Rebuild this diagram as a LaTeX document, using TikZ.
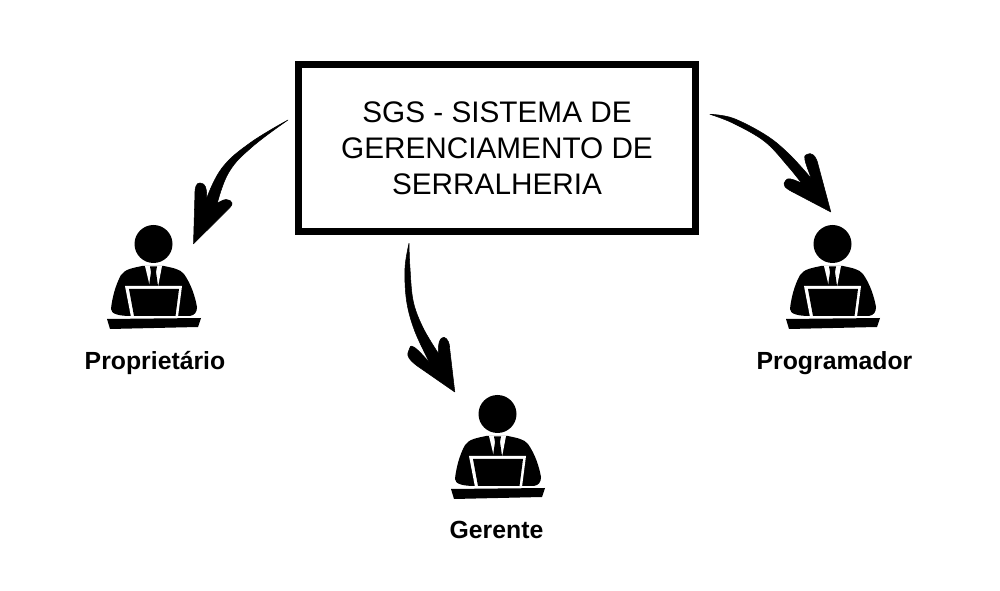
\documentclass[tikz,border=0pt]{standalone}
\usepackage{fontspec}
\setmainfont{Liberation Sans}
\tikzset{
  mainbox/.style={draw=black,line width=5.4pt,minimum width=297.5pt,minimum height=125.5pt,inner sep=0pt,align=center,font=\fontsize{22.3pt}{27pt}\selectfont},
  rolelabel/.style={font=\fontsize{18.6pt}{20pt}\selectfont\bfseries,inner sep=0pt,anchor=base},
  handarrow/.style={fill=black,draw=black,line width=0.4pt,line join=round},
  whiteline/.style={fill=white,draw=none},
  person/.pic={
    \fill (0.5,0) circle (19);
    % jacket
    \fill (-11,22) .. controls (-20,24) and (-28,25) .. (-32,31)
       .. controls (-38,42) and (-41,55) .. (-42,65)
       .. controls (-42,70) and (-34,72) .. (-22,72)
       -- (37,72) .. controls (42,71) and (44,68) .. (44,63)
       .. controls (42,52) and (38,40) .. (31,30)
       .. controls (27,25) and (20,24) .. (11,22) -- cycle;
    % shirt
    \path[whiteline] (-8,22) -- (9,22) -- (5,43) -- (-3,43) -- cycle;
    % tie
    \fill (-3,22.5) -- (4,22.5) -- (3,28) -- (5,42) -- (-4,42) -- (-2,28) -- cycle;
    % laptop
    \path[whiteline] (-28,42) -- (29,42) -- (25,73) -- (-22,73) -- cycle;
    \fill (-24,45) -- (26,45) -- (22.5,72) -- (-19,72) -- cycle;
    % desk
    \fill (-46,75) -- (48,74) -- (45,83) -- (-43,85) -- cycle;
  }
}
\begin{document}
\begin{tikzpicture}[x=0.75pt,y=-0.75pt]
\useasboundingbox (0,0) rectangle (1000,591);
\fill[white] (0,0) rectangle (1000,591);

\node[mainbox] (sgs) at (497,148) {SGS - SISTEMA DE\\GERENCIAMENTO DE\\SERRALHERIA};

\pic (pa) at (153,244) {person};
\pic (pb) at (497,414) {person};
\pic (pc) at (832,244) {person};

\node[rolelabel] (prop) at (155,369.5) {Proprietário};
\node[rolelabel] (ger) at (496.5,538.5) {Gerente};
\node[rolelabel] (prog) at (834.5,369.5) {Programador};

% arrow to Proprietario
\coordinate (a1s) at (288,120);
\coordinate (a1e) at (193.5,243.8);
\path[handarrow] (a1s)
  -- plot[smooth,tension=.7] coordinates {(288,120) (250,143) (222,168) (206.7,198.3)}
  -- plot[smooth,tension=.8] coordinates {(206.7,198.3) (205.5,187) (200,183) (196,186) (195,192)}
  -- (a1e) -- (229,208.5)
  -- plot[smooth,tension=.8] coordinates {(229,208.5) (232,203) (226,199.5) (217.3,203.3)}
  -- plot[smooth,tension=.7] coordinates {(217.3,203.3) (229,172) (252,147) (288,120)}
  -- cycle;

% arrow to Gerente
\coordinate (a2s) at (409,243.3);
\coordinate (a2e) at (454.8,392);
\path[handarrow] (a2s)
  -- plot[smooth,tension=.6] coordinates {(409,243.3) (410,268.3) (413.3,301.7) (423.3,328.3) (438.3,353.3)}
  -- plot[smooth,tension=.8] coordinates {(438.3,353.3) (439.3,342) (444,337.3) (448.5,342) (449.5,347)}
  -- (a2e) -- (418.3,366.7)
  -- plot[smooth,tension=.8] coordinates {(418.3,366.7) (409,358) (409,350) (414.3,347.3) (430,363.3)}
  -- plot[smooth,tension=.6] coordinates {(430,363.3) (415,331.7) (406.7,301.7) (405,268.3) (409,243.3)}
  -- cycle;

% arrow to Programador
\coordinate (a3s) at (710,114.3);
\coordinate (a3e) at (830.8,212);
\path[handarrow] (a3s)
  -- plot[smooth,tension=.6] coordinates {(710,114.3) (733.3,118.3) (766.7,135.7) (790,155) (811.7,179)}
  -- plot[smooth,tension=.8] coordinates {(811.7,179) (805,160) (807.3,154.3) (813.3,155) (817.3,161.7)}
  -- (a3e) -- (793.3,192.3)
  -- plot[smooth,tension=.8] coordinates {(793.3,192.3) (785,186.7) (785.3,181) (790.7,179) (801.7,183.3)}
  -- plot[smooth,tension=.6] coordinates {(801.7,183.3) (788.3,166.7) (765,141.7) (733.3,123.3) (710,114.3)}
  -- cycle;
\end{tikzpicture}
\end{document}
